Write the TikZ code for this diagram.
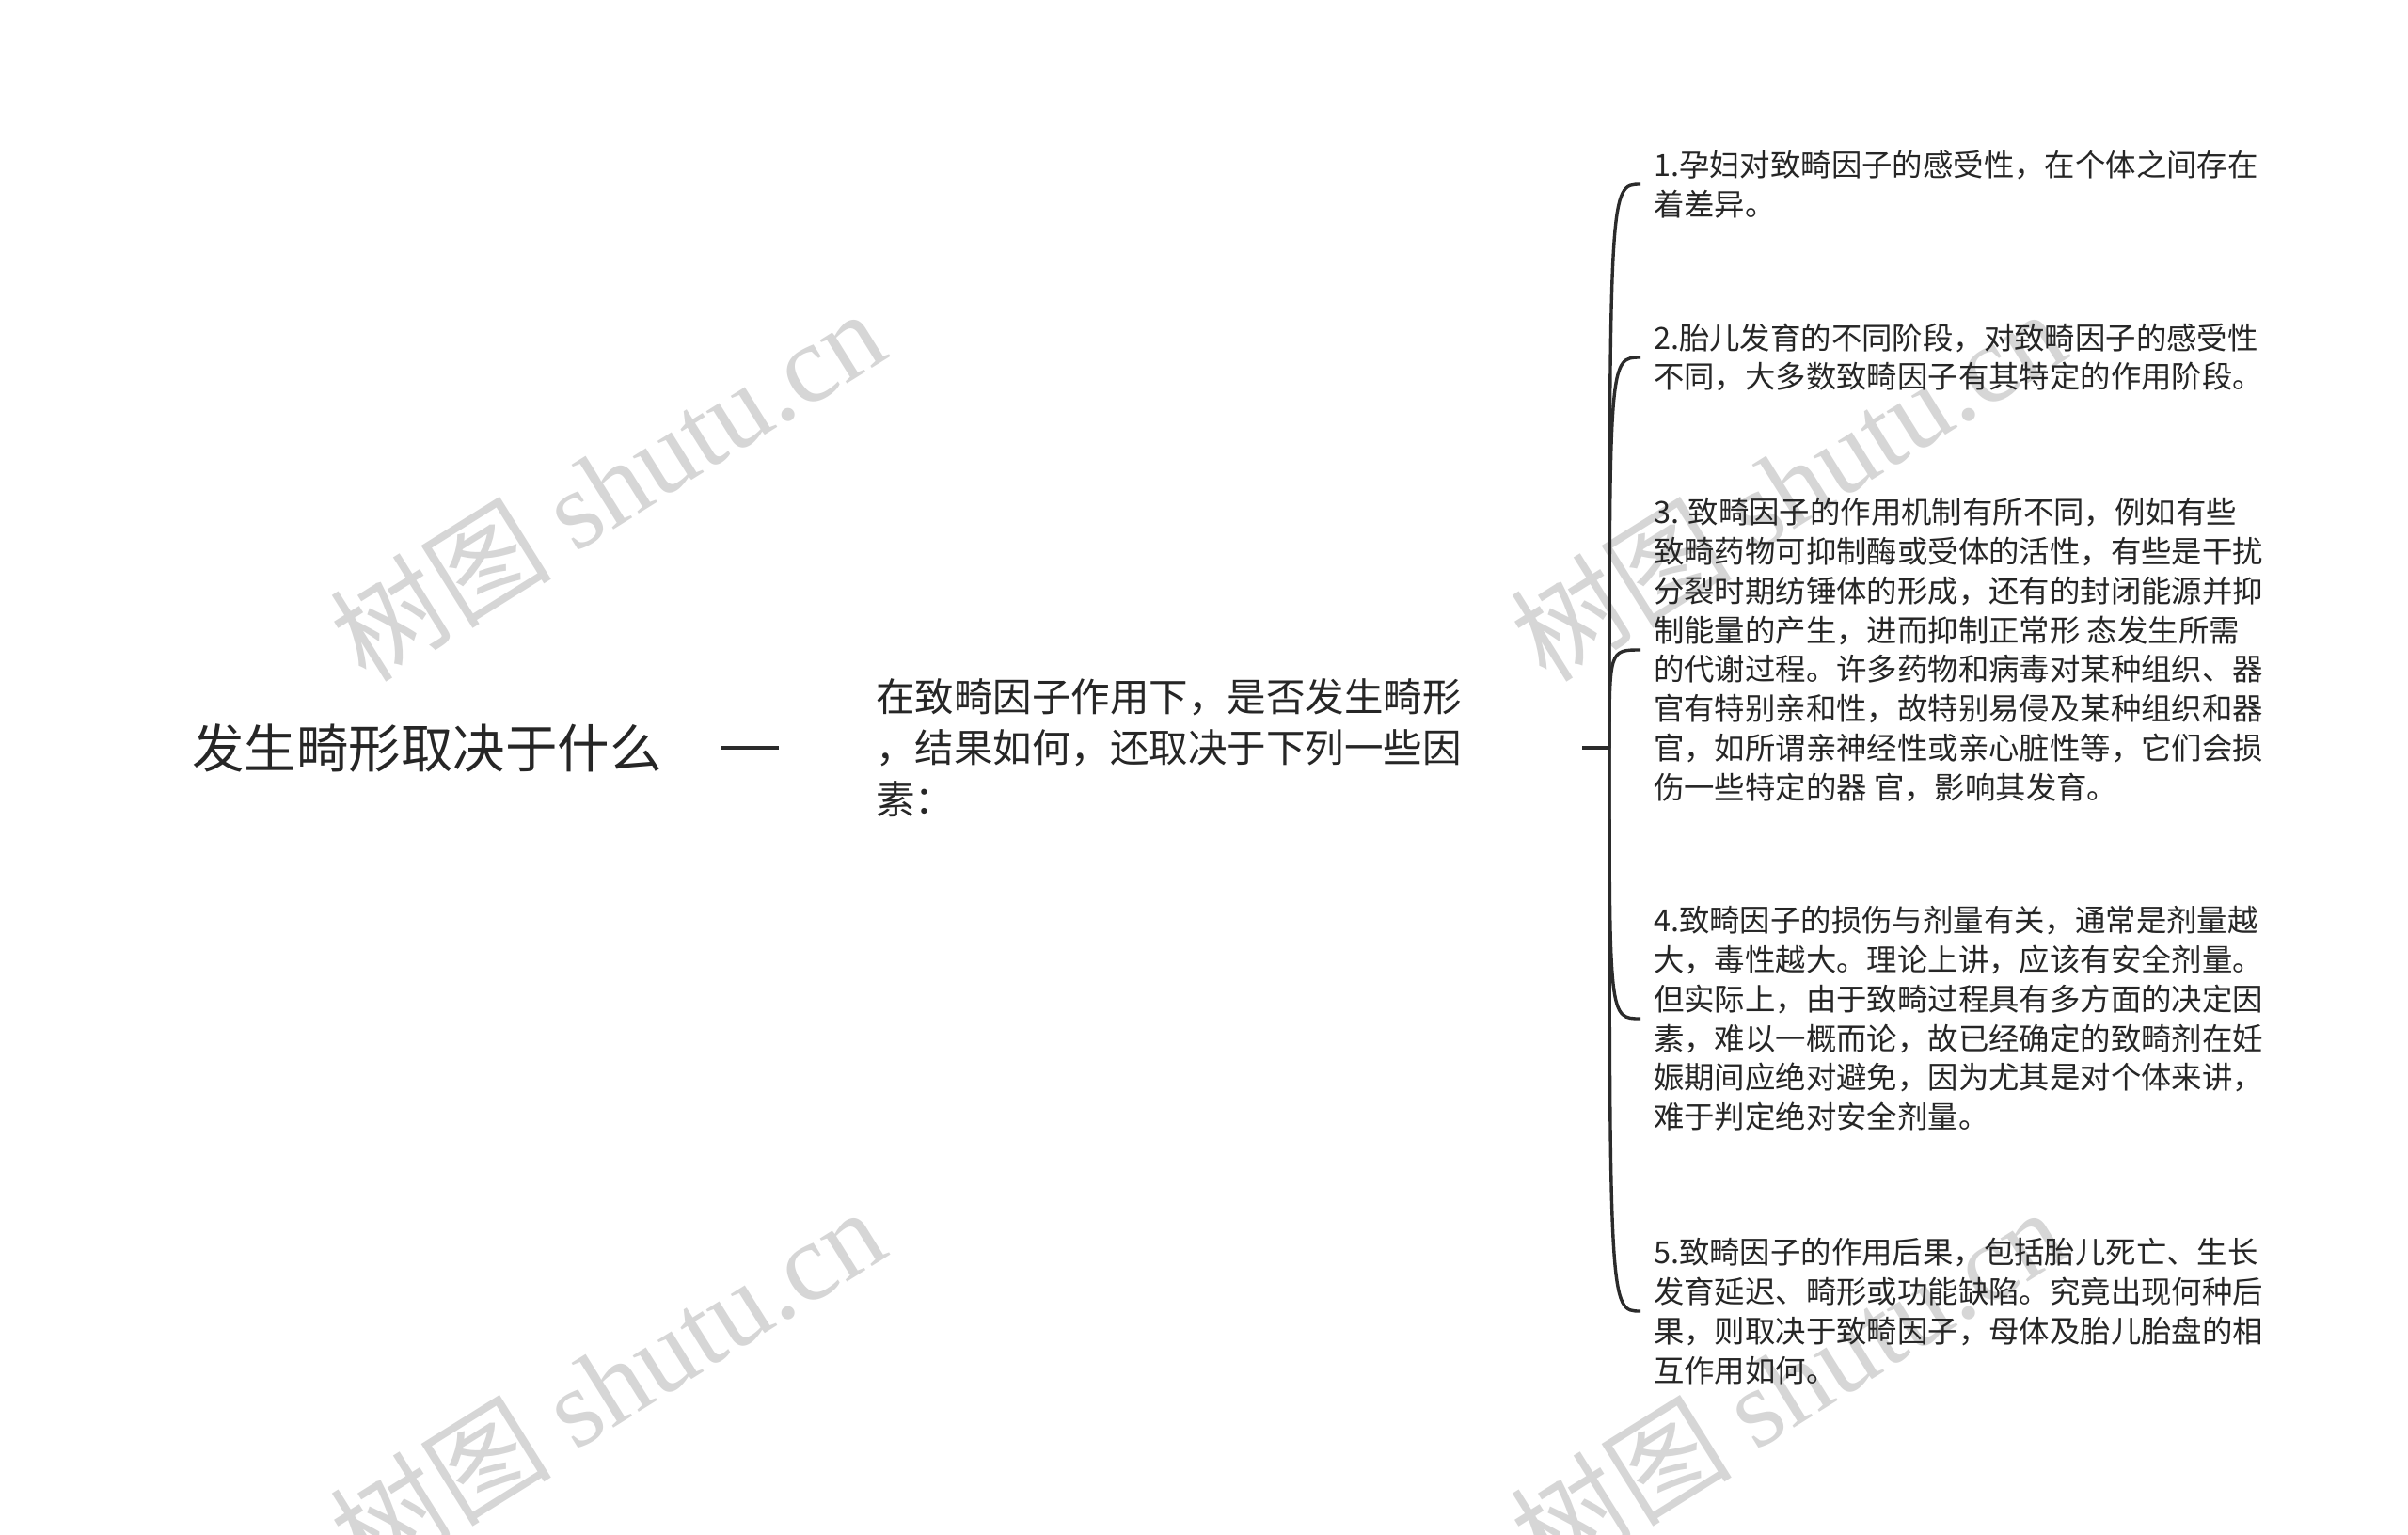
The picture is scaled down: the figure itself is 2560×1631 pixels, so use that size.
\documentclass[tikz,border=0pt]{standalone}
\usepackage{fontspec}
\setmainfont{Noto Sans CJK SC}
\newfontfamily\cjk{Noto Sans CJK SC}
\newfontfamily\wmlatin{Liberation Serif}
\usetikzlibrary{calc}
\definecolor{txt}{HTML}{262626}
\definecolor{ln}{HTML}{2B2B2B}
\definecolor{wm}{HTML}{D6D6D6}
\begin{document}
\begin{tikzpicture}[x=1pt,y=-1pt,
  every node/.style={inner sep=0pt, outer sep=0pt, text=txt},
  roottext/.style={anchor=west, font=\fontsize{55.5}{64}\selectfont},
  midtext/.style={anchor=west, align=left, font=\fontsize{41.5}{54.5}\selectfont},
  leaftext/.style={anchor=west, align=left, font=\fontsize{32.4}{41.8}\selectfont},
  link/.style={draw=ln, line width=3.4pt},
  watermark/.style={text=wm, rotate=32, font=\fontsize{118}{118}\selectfont}
]
\useasboundingbox[fill=white] (0,0) rectangle (2560,1631);
\begin{scope}
\clip (0,0) rectangle (2560,1631);
\node[watermark] (wm1) at (645,515) {{\cjk 树图} {\wmlatin shutu.cn}};
\node[watermark] (wm2) at (1900,515) {{\cjk 树图} {\wmlatin shutu.cn}};
\node[watermark] (wm3) at (645,1470) {{\cjk 树图} {\wmlatin shutu.cn}};
\node[watermark] (wm4) at (1900,1470) {{\cjk 树图} {\wmlatin shutu.cn}};
\end{scope}

\node[roottext] (root) at (204,795) {发生畸形取决于什么};
\node[midtext] (mid) at (931,795) {在致畸因子作用下，是否发生畸形\\，结果如何，还取决于下列一些因\\素：};

\node[leaftext] (c1) at (1758,196) {1.孕妇对致畸因子的感受性，在个体之间存在\\着差异。};
\node[leaftext] (c2) at (1758,380) {2.胎儿发育的不同阶段，对致畸因子的感受性\\不同，大多数致畸因子有其特定的作用阶段。};
\node[leaftext] (c3) at (1758,691) {3. 致畸因子的作用机制有所不同，例如有些\\致畸药物可抑制酶或受体的活性，有些是干扰\\分裂时期纺锤体的形成，还有的封闭能源并抑\\制能量的产生，进而抑制正常形 态发生所需\\的代谢过程。许多药物和病毒对某种组织、器\\官有特别亲和性，故特别易侵及某种组织和器\\官，如所谓亲神经性或亲心脏性等，它们会损\\伤一些特定的器 官，影响其发育。};
\node[leaftext] (c4) at (1758,1083) {4.致畸因子的损伤与剂量有关，通常是剂量越\\大，毒性越大。理论上讲，应该有安全剂量。\\但实际上，由于致畸过程具有多方面的决定因\\素，难以一概而论，故已经确定的致畸剂在妊\\娠期间应绝对避免，因为尤其是对个体来讲，\\难于判定绝对安全剂量。};
\node[leaftext] (c5) at (1758,1394) {5.致畸因子的作用后果，包括胎儿死亡、生长\\发育延迟、畸形或功能缺陷。究竟出现何种后\\果，则取决于致畸因子，母体及胎儿胎盘的相\\互作用如何。};

\coordinate (dashstart) at (767,795);
\draw[link, line width=4.5pt] (dashstart) -- ([xshift=-103pt]mid.west);

\coordinate (stub) at (1682,795);
\coordinate (hub) at (1711,795);
\draw[link, line width=4pt] (stub) -- (hub);
\foreach \c in {c1,c2,c3,c4,c5}{
  \draw[link] (hub) .. controls (hub |- \c.west) .. ([xshift=-14pt]\c.west);
}
\end{tikzpicture}
\end{document}
